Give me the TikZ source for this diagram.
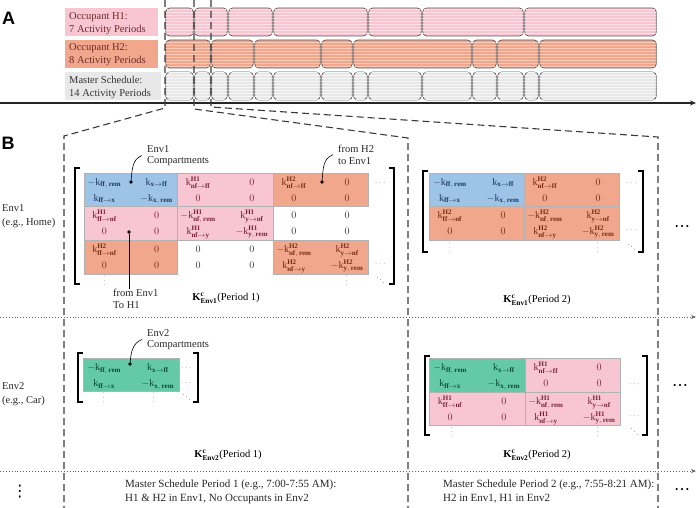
\documentclass[tikz,border=0pt]{standalone}
\usepackage{fontspec}
\usepackage{amsmath}
\setmainfont{Liberation Serif}
\newfontfamily\panelfont{Liberation Sans}
\newfontfamily\symfont{DejaVu Sans}
\usetikzlibrary{patterns,arrows.meta}
\definecolor{pinkF}{HTML}{F8C6D3}
\definecolor{salF}{HTML}{F1A78C}
\definecolor{grayF}{HTML}{E8E8E8}
\definecolor{blueF}{HTML}{9DC3E6}
\definecolor{greenF}{HTML}{63C9A6}
\definecolor{pinkT}{HTML}{7B2038}
\definecolor{salT}{HTML}{7A2A12}
\definecolor{blueT}{HTML}{1F3864}
\definecolor{greenT}{HTML}{0D4A38}
\definecolor{grayT}{HTML}{333333}
\definecolor{labT}{HTML}{6E2A2A}
\definecolor{lineC}{HTML}{3A3A3A}
\newcommand{\KR}[1]{\mathrm{k}_{\mathbf{#1}}}
\newcommand{\KA}[2]{\mathrm{k}_{\mathbf{#1}\to\mathbf{#2}}}
\newcommand{\KHR}[2]{\mathrm{k}^{\mathbf{#1}}_{\mathbf{#2}}}
\newcommand{\KHA}[3]{\mathrm{k}^{\mathbf{#1}}_{\mathbf{#2}\to\mathbf{#3}}}
\newcommand{\KEnv}[1]{\mathbf{K}^{\mathbf{c}}_{\mathbf{#1}}}
\newcommand{\blk}[5]{\filldraw[fill=#5, draw=black!30, line width=0.4pt] (#1,#2) rectangle (#3,#4);}
\newcommand{\fourent}[9]{%
  \node[ent,text=#5] (#1a) at ({#2+0.22*(#3-#2)},{#4+12.5}) {$#6$};
  \node[ent,text=#5] (#1b) at ({#2+0.78*(#3-#2)},{#4+12.5}) {$#7$};
  \node[ent,text=#5] (#1c) at ({#2+0.22*(#3-#2)},{#4+28.5}) {$#8$};
  \node[ent,text=#5] (#1d) at ({#2+0.78*(#3-#2)},{#4+28.5}) {$#9$};}
\newcommand{\lbrk}[3]{\draw[brk] (#1+5,#2) -- (#1,#2) -- (#1,#3) -- (#1+5,#3);}
\newcommand{\rbrk}[3]{\draw[brk] (#1-5,#2) -- (#1,#2) -- (#1,#3) -- (#1-5,#3);}
\begin{document}
\begin{tikzpicture}[x=1pt,y=-1pt,
  ent/.style={anchor=base, inner sep=0pt, font=\fontsize{10}{12}\selectfont},
  tlblk/.style={draw=black!65, line width=0.7pt, rounded corners=4pt},
  tlH1/.style={tlblk, fill=pinkF, postaction={pattern=horizontal lines, pattern color=pinkF!55!white}},
  tlH2/.style={tlblk, fill=salF, postaction={pattern=horizontal lines, pattern color=salF!60!white}},
  tlM/.style={tlblk, fill=grayF, postaction={pattern=horizontal lines, pattern color=grayF!40!white}},
  dashL/.style={draw=lineC, line width=1.1pt, dash pattern=on 7pt off 4pt},
  sepL/.style={draw=black!60, line width=0.9pt, dotted, -{Stealth[length=5pt,width=4pt]}},
  brk/.style={draw=black, line width=1.5pt},
  ptdot/.style={circle, fill=black, inner sep=0pt, minimum size=3.6pt},
  pointer/.style={draw=black, line width=0.6pt},
  plab/.style={anchor=north west, inner sep=0pt, align=left, font=\fontsize{10.5}{11.5}\selectfont, text=black!85},
  klab/.style={inner sep=0pt, font=\fontsize{10.5}{12}\selectfont},
  btxt/.style={anchor=north west, inner sep=0pt, align=left, font=\fontsize{11}{14}\selectfont, text=black!85},
  tlab/.style={anchor=north west, inner sep=0pt, align=left, font=\fontsize{10.5}{13}\selectfont},
  rowlab/.style={anchor=north west, inner sep=0pt, align=left, font=\fontsize{10.5}{14}\selectfont, text=black!85},
  panel/.style={inner sep=0pt, font=\panelfont\bfseries\fontsize{18}{18}\selectfont},
  mdots/.style={inner sep=0pt, font=\fontsize{9}{9}\selectfont, text=black!55},
  vdt/.style={mdots, rotate=90},
  ddt/.style={mdots, rotate=-45},
  bigdots/.style={inner sep=0pt, font=\symfont\fontsize{16}{16}\selectfont}]
\useasboundingbox (0,0) rectangle (697,508);

% ---------- Panel A ----------
\node[panel] (lA) at (8.5,18.5) {A};
\node[panel] (lB) at (8,143) {B};

\fill[pinkF] (65,8) rectangle (158,36);
\fill[salF] (65,40) rectangle (158,68);
\fill[grayF] (65,72) rectangle (161,100);
\node[tlab, text=labT] (labH1) at (69,12.5) {Occupant H1:\\7 Activity Periods};
\node[tlab, text=labT] (labH2) at (69,43.5) {Occupant H2:\\8 Activity Periods};
\node[tlab, text=black!80] (labM) at (69,76.5) {Master Schedule:\\14 Activity Periods};

\foreach \a/\b in {165/194,194/228,228/273,273/368,368/422,422/524,524/657}
  \path[tlH1] (\a+0.7,8) rectangle (\b-0.7,36);
\foreach \a/\b in {165/211,211/254,254/321,321/353,353/472,472/497,497/539,539/657}
  \path[tlH2] (\a+0.7,40) rectangle (\b-0.7,68);
\foreach \a/\b in {165/194,194/211,211/228,228/254,254/273,273/321,321/353,353/368,368/422,422/472,472/497,497/524,524/539,539/657}
  \path[tlM] (\a+0.7,72) rectangle (\b-0.7,100);

\coordinate (axS) at (0,103);
\coordinate (axE) at (696,103);
\draw[draw=black!85, line width=1.3pt, -{Stealth[length=6pt,width=5pt]}] (axS) -- (axE);

% dashed zoom lines
\coordinate (d1t) at (165,0); \coordinate (d1m) at (165,108); \coordinate (d1n) at (64,136); \coordinate (d1b) at (64,508);
\coordinate (d2t) at (194,0); \coordinate (d2m) at (194,109); \coordinate (d2n) at (408,138); \coordinate (d2b) at (408,508);
\coordinate (d3t) at (211,0); \coordinate (d3m) at (211,107); \coordinate (d3n) at (658,137); \coordinate (d3b) at (658,508);
\draw[dashL] (d1t) -- (d1m) -- (d1n) -- (d1b);
\draw[dashL] (d2t) -- (d2m) -- (d2n) -- (d2b);
\draw[dashL] (d3t) -- (d3m) -- (d3n) -- (d3b);

% separators
\coordinate (s1a) at (0,317); \coordinate (s1b) at (696,317);
\coordinate (s2a) at (0,471); \coordinate (s2b) at (696,471);
\draw[sepL] (s1a) -- (s1b);
\draw[sepL] (s2a) -- (s2b);

% row labels
\node[rowlab] (env1) at (2,204.5) {Env1\\(e.g., Home)};
\node[rowlab] (env2) at (2,382.5) {Env2\\(e.g., Car)};

% ---------- Env1, Period 1 ----------
\blk{84}{173}{177}{206}{blueF}
\blk{177}{173}{273}{206}{pinkF}
\blk{273}{173}{368}{206}{salF}
\blk{84}{206}{177}{240}{pinkF}
\blk{177}{206}{273}{240}{pinkF}
\blk{84}{240}{177}{274}{salF}
\blk{273}{240}{368}{274}{salF}
\fourent{pa}{84}{177}{173}{blueT}{-\KR{ff,\,rem}}{\KA{x}{ff}}{\KA{ff}{x}}{-\KR{x,\,rem}}
\fourent{pb}{177}{273}{173}{pinkT}{\KHA{H1}{nf}{ff}}{0}{0}{0}
\fourent{pc}{273}{368}{173}{salT}{\KHA{H2}{nf}{ff}}{0}{0}{0}
\fourent{pd}{84}{177}{206}{pinkT}{\KHA{H1}{ff}{nf}}{0}{0}{0}
\fourent{pe}{177}{273}{206}{pinkT}{-\KHR{H1}{nf,\,rem}}{\KHA{H1}{y}{nf}}{\KHA{H1}{nf}{y}}{-\KHR{H1}{y,\,rem}}
\fourent{pf}{273}{368}{206}{grayT}{0}{0}{0}{0}
\fourent{pg}{84}{177}{240}{salT}{\KHA{H2}{ff}{nf}}{0}{0}{0}
\fourent{ph}{177}{273}{240}{grayT}{0}{0}{0}{0}
\fourent{pi}{273}{368}{240}{salT}{-\KHR{H2}{nf,\,rem}}{\KHA{H2}{y}{nf}}{\KHA{H2}{nf}{y}}{-\KHR{H2}{y,\,rem}}
\node[mdots, anchor=base] (d1a) at (381,185.5) {$\cdots$};
\node[mdots, anchor=base] (d1b) at (381,266.5) {$\cdots$};
\node[vdt] (d1c) at (104.5,280) {$\cdots$};
\node[vdt] (d1d) at (347,280) {$\cdots$};
\node[ddt] (d1e) at (381,281) {$\cdots$};
\lbrk{75}{168}{284}
\rbrk{394}{168}{284}

\node[plab] (c1lab) at (147,145) {Env1\\Compartments};
\node[ptdot] (c1dot) at (131,182) {};
\draw[pointer] ([xshift=-5pt]c1lab.west) to[out=200,in=85] (c1dot);

\node[plab] (h2lab) at (338,145) {from H2\\to Env1};
\node[ptdot] (h2dot) at (322,182) {};
\draw[pointer] ([xshift=-5pt]h2lab.west) to[out=200,in=85] (h2dot);

\node[plab] (h1lab) at (113,289) {from Env1\\To H1};
\node[ptdot] (h1dot) at (129,232) {};
\draw[pointer] (h1dot) -- (h1dot |- h1lab.north);

\node[klab] (k11) at (226,298) {$\KEnv{Env1}$(Period 1)};

% ---------- Env1, Period 2 ----------
\blk{429}{173}{524}{206}{blueF}
\blk{524}{173}{619}{206}{salF}
\blk{429}{206}{524}{240}{salF}
\blk{524}{206}{619}{240}{salF}
\fourent{qa}{429}{524}{173}{blueT}{-\KR{ff,\,rem}}{\KA{x}{ff}}{\KA{ff}{x}}{-\KR{x,\,rem}}
\fourent{qb}{524}{619}{173}{salT}{\KHA{H2}{nf}{ff}}{0}{0}{0}
\fourent{qc}{429}{524}{206}{salT}{\KHA{H2}{ff}{nf}}{0}{0}{0}
\fourent{qd}{524}{619}{206}{salT}{-\KHR{H2}{nf,\,rem}}{\KHA{H2}{y}{nf}}{\KHA{H2}{nf}{y}}{-\KHR{H2}{y,\,rem}}
\node[mdots, anchor=base] (d2a) at (632,185.5) {$\cdots$};
\node[mdots, anchor=base] (d2b) at (632,232.5) {$\cdots$};
\node[vdt] (d2c) at (450,247) {$\cdots$};
\node[vdt] (d2d) at (598,247) {$\cdots$};
\node[ddt] (d2e) at (632,248) {$\cdots$};
\lbrk{423}{171}{252}
\rbrk{643}{171}{252}
\node[klab] (k12) at (537,300) {$\KEnv{Env1}$(Period 2)};
\node[bigdots] (e1dots) at (682,229) {⋯};

% ---------- Env2, Period 1 ----------
\blk{83}{358}{179}{391}{greenF}
\fourent{ra}{83}{179}{358}{greenT}{-\KR{ff,\,rem}}{\KA{x}{ff}}{\KA{ff}{x}}{-\KR{x,\,rem}}
\node[mdots, anchor=base] (d3a) at (187,370.5) {$\cdots$};
\node[mdots, anchor=base] (d3b) at (187,385) {$\cdots$};
\node[vdt] (d3c) at (104,397) {$\cdots$};
\node[vdt] (d3d) at (154,397) {$\cdots$};
\node[ddt] (d3e) at (187,398) {$\cdots$};
\lbrk{78}{353}{402}
\rbrk{198}{353}{402}
\node[plab] (c2lab) at (147,329) {Env2\\Compartments};
\node[ptdot] (c2dot) at (130,364) {};
\draw[pointer] ([xshift=-5pt]c2lab.west) to[out=200,in=85] (c2dot);
\node[klab] (k21) at (228,455) {$\KEnv{Env2}$(Period 1)};

% ---------- Env2, Period 2 ----------
\blk{429}{358}{525}{392}{greenF}
\blk{525}{358}{620}{392}{pinkF}
\blk{429}{392}{525}{425}{pinkF}
\blk{525}{392}{620}{425}{pinkF}
\fourent{sa}{429}{525}{358}{greenT}{-\KR{ff,\,rem}}{\KA{x}{ff}}{\KA{ff}{x}}{-\KR{x,\,rem}}
\fourent{sb}{525}{620}{358}{pinkT}{\KHA{H1}{nf}{ff}}{0}{0}{0}
\fourent{sc}{429}{525}{392}{pinkT}{\KHA{H1}{ff}{nf}}{0}{0}{0}
\fourent{sd}{525}{620}{392}{pinkT}{-\KHR{H1}{nf,\,rem}}{\KHA{H1}{y}{nf}}{\KHA{H1}{nf}{y}}{-\KHR{H1}{y,\,rem}}
\node[mdots, anchor=base] (d4a) at (635,386.5) {$\cdots$};
\node[mdots, anchor=base] (d4b) at (635,418.5) {$\cdots$};
\node[vdt] (d4c) at (452,431.5) {$\cdots$};
\node[vdt] (d4d) at (598,431.5) {$\cdots$};
\node[ddt] (d4e) at (635,432.5) {$\cdots$};
\lbrk{425}{356}{435}
\rbrk{647}{356}{435}
\node[klab] (k22) at (537,455) {$\KEnv{Env2}$(Period 2)};
\node[bigdots] (e2dots) at (680,388) {⋯};

% ---------- bottom ----------
\node[bigdots] (vdl) at (20,492) {⋮};
\node[btxt] (m1) at (125,480) {Master Schedule Period 1 (e.g., 7:00-7:55 AM):\\H1 \& H2 in Env1, No Occupants in Env2};
\node[btxt] (m2) at (443,480) {Master Schedule Period 2 (e.g., 7:55-8:21 AM):\\H2 in Env1, H1 in Env2};
\node[bigdots] (e3dots) at (682,492) {⋯};
\end{tikzpicture}
\end{document}
